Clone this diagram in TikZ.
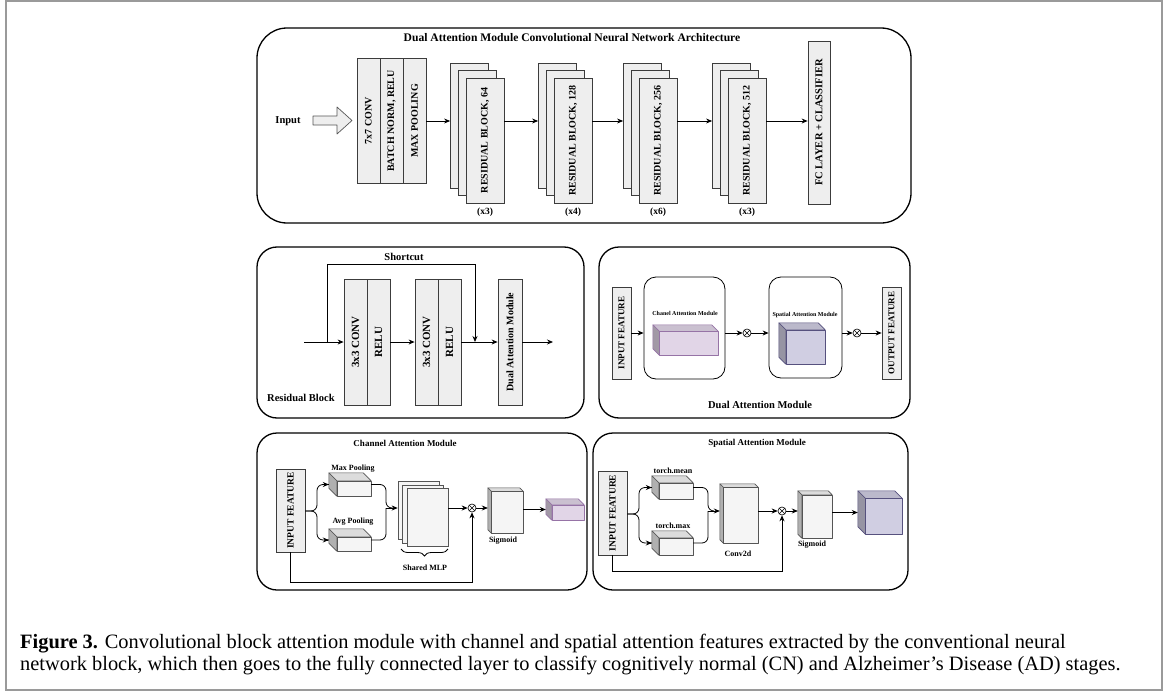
\documentclass[tikz,border=0pt]{standalone}
\usepackage{fontspec}
\setmainfont{Liberation Serif}
\usetikzlibrary{calc,arrows.meta,decorations.pathreplacing}
\definecolor{boxf}{HTML}{EEEEEE}
\definecolor{boxd}{HTML}{3C3C3C}
\definecolor{cgray}{HTML}{F5F5F5}
\definecolor{cgrayd}{HTML}{555555}
\definecolor{cpur}{HTML}{E1D5E7}
\definecolor{cpurd}{HTML}{9673A6}
\definecolor{cblue}{HTML}{D0CEE2}
\definecolor{cblued}{HTML}{56517E}
\definecolor{framec}{HTML}{9A9A9A}
\newcommand{\myfs}[1]{\fontsize{#1}{#1}\selectfont\bfseries}
% cuboid: name, cx, cy, w, h, depth, face colour, line colour
\newcommand{\cuboid}[8]{%
  \node[minimum width=#4pt, minimum height=#5pt, inner sep=0pt, draw=none] (#1) at (#2,#3) {};
  \filldraw[fill=#7!90!black, draw=#8, line width=0.6pt, line join=round]
    (#1.north west) -- ($(#1.north east)+(-#6,0)$) -- ($(#1.north east)+(0,#6)$) -- ($(#1.north west)+(#6,#6)$) -- cycle;
  \filldraw[fill=#7!72!black, draw=#8, line width=0.6pt, line join=round]
    (#1.north west) -- ($(#1.north west)+(#6,#6)$) -- ($(#1.south west)+(#6,0)$) -- ($(#1.south west)+(0,-#6)$) -- cycle;
  \filldraw[fill=#7, draw=#8, line width=0.6pt, line join=round]
    ($(#1.north west)+(#6,#6)$) rectangle (#1.south east);
}
\newcommand{\otimesnode}[3]{%
  \node[otim] (#1) at (#2,#3) {};
  \draw[line width=0.6pt] (#1.north east) -- (#1.south west) (#1.north west) -- (#1.south east);
}
% stack of three residual blocks: name, front-left x, text, multiplicity
\newcommand{\stackblk}[4]{%
  \node[blk, minimum width=38pt, minimum height=125pt] (#1b) at (#2+3.5,125.5) {};
  \node[blk, minimum width=38pt, minimum height=125pt] (#1m) at (#2+11.25,133) {};
  \node[blk, minimum width=38pt, minimum height=125pt] (#1f) at (#2+19,140.5) {\rotatebox{90}{\myfs{10}#3}};
  \node[txt] (#1x) at (#2+19,212) {\myfs{9.5}#4};
}
\begin{document}
\begin{tikzpicture}[x=1pt,y=-1pt,
  panel/.style={draw=black, line width=1.3pt},
  blk/.style={draw=boxd, fill=boxf, line width=0.8pt, inner sep=0pt},
  txt/.style={inner sep=0pt},
  arr/.style={-{Stealth[length=6pt,width=5pt]}, line width=0.8pt},
  ln/.style={line width=0.8pt},
  otim/.style={circle, draw, line width=0.6pt, minimum size=8pt, inner sep=0pt, fill=white},
]
\useasboundingbox (0,0) rectangle (1165,693);
\fill[white] (0,0) rectangle (1165,693);
\draw[framec, line width=2pt] (5.5,1.5) rectangle (1162,690);

% ================= top panel =================
\draw[panel, rounded corners=30pt] (257,28) rectangle (911,223);
\node[txt] (toptitle) at (572,38) {\myfs{11.6}Dual Attention Module Convolutional Neural Network Architecture};
\node[txt] (input) at (288,121) {\myfs{10.5}Input};
\filldraw[fill=boxf, draw=cgrayd, line width=0.7pt, line join=round]
  (313,116) -- (337,116) -- (337,107) -- (352,120.5) -- (337,134) -- (337,125) -- (313,125) -- cycle;
\node[blk, minimum width=23pt, minimum height=125pt] (c1) at (368.5,121) {\rotatebox{90}{\myfs{10}7x7 CONV}};
\node[blk, minimum width=23pt, minimum height=125pt] (c2) at (391.5,121) {\rotatebox{90}{\myfs{10}BATCH NORM, RELU}};
\node[blk, minimum width=23pt, minimum height=125pt] (c3) at (414.5,121) {\rotatebox{90}{\myfs{10}MAX POOLING}};
\stackblk{ra}{466}{RESIDUAL BLOCK, 64}{(x3)}
\stackblk{rb}{554}{RESIDUAL BLOCK, 128}{(x4)}
\stackblk{rc}{639}{RESIDUAL BLOCK, 256}{(x6)}
\stackblk{rd}{728}{RESIDUAL BLOCK, 512}{(x3)}
\node[blk, minimum width=22pt, minimum height=163pt] (fc) at (819,122.5) {\rotatebox{90}{\myfs{10.5}FC LAYER + CLASSIFIER}};
\draw[arr] (c3.east) -- (rab.west |- c3.east);
\draw[arr] (raf.east |- c3.east) -- (rbb.west |- c3.east);
\draw[arr] (rbf.east |- c3.east) -- (rcb.west |- c3.east);
\draw[arr] (rcf.east |- c3.east) -- (rdb.west |- c3.east);
\draw[arr] (rdf.east |- c3.east) -- (fc.west |- c3.east);

% ================= residual block panel =================
\draw[panel, rounded corners=20pt] (257,247) rectangle (584,418);
\node[txt] (sclbl) at (404,257) {\myfs{10.5}Shortcut};
\node[txt, anchor=west] (rblbl) at (267,398) {\myfs{10.5}Residual Block};
\node[blk, minimum width=23pt, minimum height=126pt] (b1a) at (355.5,342) {\rotatebox{90}{\myfs{11}3x3 CONV}};
\node[blk, minimum width=23pt, minimum height=126pt] (b1b) at (378.5,342) {\rotatebox{90}{\myfs{11}RELU}};
\node[blk, minimum width=23pt, minimum height=126pt] (b2a) at (426.5,342) {\rotatebox{90}{\myfs{11}3x3 CONV}};
\node[blk, minimum width=23pt, minimum height=126pt] (b2b) at (449.5,342) {\rotatebox{90}{\myfs{11}RELU}};
\node[blk, minimum width=24pt, minimum height=126pt] (dam) at (510,342) {\rotatebox{90}{\myfs{10}Dual Attention Module}};
\coordinate (rin) at (304,342);
\coordinate (rsc) at (327,342);
\coordinate (rjn) at (475,342);
\coordinate (rout) at (553,342);
\draw[arr] (rin) -- (b1a.west);
\draw[arr] (rsc) -- ++(0,-78) -| (rjn);
\draw[arr] (b1b.east) -- (b2a.west);
\draw[arr] (b2b.east) -- (dam.west |- b2b.east);
\draw[arr] (dam.east |- b2b.east) -- (rout);

% ================= dual attention panel =================
\draw[panel, rounded corners=20pt] (599,247) rectangle (910,418);
\node[blk, minimum width=19pt, minimum height=92pt] (inf1) at (621.5,333) {\rotatebox{90}{\myfs{9}INPUT FEATURE}};
\node[draw=black, line width=0.8pt, rounded corners=12pt, minimum width=81pt, minimum height=102pt, inner sep=0pt] (cam) at (684.5,328) {};
\node[txt] (camlbl) at (685,313) {\myfs{6}Chanel Attention Module};
\cuboid{pc1}{685.5}{340}{65}{30}{6.5}{cpur}{cpurd}
\otimesnode{ot1}{747}{333}
\node[draw=black, line width=0.8pt, rounded corners=12pt, minimum width=73pt, minimum height=101pt, inner sep=0pt] (sam) at (805.5,327.5) {};
\node[txt] (samlbl) at (805,315) {\myfs{6}Spatial Attention Module};
\cuboid{bc1}{802}{343.5}{46}{41}{7}{cblue}{cblued}
\otimesnode{ot2}{857}{333}
\node[blk, minimum width=19pt, minimum height=92pt] (out1) at (891.5,333) {\rotatebox{90}{\myfs{9}OUTPUT FEATURE}};
\node[txt] (dalbl) at (760,405) {\myfs{10.5}Dual Attention Module};
\draw[arr] (inf1.east) -- (cam.west |- inf1.east);
\draw[arr] (cam.east |- ot1) -- (ot1.west);
\draw[arr] (ot1.east) -- (sam.west |- ot1);
\draw[arr] (sam.east |- ot2) -- (ot2.west);
\draw[arr] (ot2.east) -- (out1.west);

% ================= channel attention panel =================
\draw[panel, rounded corners=20pt] (257,433) rectangle (587,590);
\node[txt] (catitle) at (405,443) {\myfs{9}Channel Attention Module};
\node[blk, minimum width=29pt, minimum height=83pt] (inf2) at (290.5,510.5) {\rotatebox{90}{\myfs{9.5}INPUT FEATURE}};
\node[txt] (mplbl) at (353,469) {\myfs{8}Max Pooling};
\node[txt] (aplbl) at (353,522) {\myfs{8}Avg Pooling};
\cuboid{mp}{350}{484.5}{42}{23}{8}{cgray}{cgrayd}
\cuboid{ap}{350}{540}{42}{22}{8}{cgray}{cgrayd}
\node[blk, fill=cgray, draw=cgrayd, line width=0.6pt, minimum width=41pt, minimum height=58pt] (mlp1) at (418.5,510) {};
\node[blk, fill=cgray, draw=cgrayd, line width=0.6pt, minimum width=41pt, minimum height=58pt] (mlp2) at (423,514) {};
\node[blk, fill=cgray, draw=cgrayd, line width=0.6pt, minimum width=41pt, minimum height=58pt] (mlp3) at (427.5,517.5) {};
\draw[ln, decorate, decoration={brace, amplitude=7pt}] (448,549) -- (401,549);
\node[txt] (mlplbl) at (425,568) {\myfs{8}Shared MLP};
\otimesnode{ot3}{472}{508}
\cuboid{sg1}{505.5}{510.5}{35}{45}{3.5}{cgray}{cgrayd}
\node[txt] (sg1lbl) at (503,541) {\myfs{8}Sigmoid};
\cuboid{pc2}{565}{509.5}{38}{21}{6}{cpur}{cpurd}
\draw[ln, rounded corners=6pt] (inf2.east |- 0,511) -- (317,511) |- (mp.west);
\draw[arr] (mp.west) ++(-1,0) -- (mp.west);
\draw[ln, rounded corners=6pt] (inf2.east |- 0,511) -- (317,511) |- (ap.west);
\draw[arr] (ap.west) ++(-1,0) -- (ap.west);
\draw[ln, rounded corners=6pt] (mp.east) -- (386,484.5) -- (386,508) -- (393,508);
\draw[ln, rounded corners=6pt] (ap.east) -- (386,540) -- (386,508);
\draw[arr] (386,508) -- (mlp1.west |- 0,508);
\draw[arr] (mlp3.east |- ot3) -- (ot3.west);
\draw[arr] (inf2.south) -- ++(0,30) -| (ot3.south);
\draw[arr] (ot3.east) -- (sg1.west |- ot3);
\draw[arr] (sg1.east |- pc2) -- (pc2.west);

% ================= spatial attention panel =================
\draw[panel, rounded corners=20pt] (593,433) rectangle (908,590);
\node[txt] (satitle) at (757,443) {\myfs{9}Spatial Attention Module};
\node[blk, minimum width=29pt, minimum height=84pt] (inf3) at (612.5,513) {\rotatebox{90}{\myfs{9.5}INPUT FEATURE}};
\node[txt] (tmlbl) at (673,471) {\myfs{8}torch.mean};
\node[txt] (txlbl) at (673,526) {\myfs{8}torch.max};
\cuboid{tm}{672.5}{487.5}{41}{23}{7}{cgray}{cgrayd}
\cuboid{tx}{672.5}{543}{41}{24}{7}{cgray}{cgrayd}
\cuboid{cv}{739}{513.5}{38}{59}{3.5}{cgray}{cgrayd}
\node[txt] (cvlbl) at (738,554) {\myfs{8}Conv2d};
\otimesnode{ot4}{782}{511}
\cuboid{sg2}{815}{514.5}{34}{47}{4}{cgray}{cgrayd}
\node[txt] (sg2lbl) at (812,545) {\myfs{8}Sigmoid};
\cuboid{bc2}{880}{512.5}{44}{43}{7.5}{cblue}{cblued}
\draw[ln, rounded corners=6pt] (inf3.east |- 0,514) -- (639,514) |- (tm.west);
\draw[arr] (tm.west) ++(-1,0) -- (tm.west);
\draw[ln, rounded corners=6pt] (inf3.east |- 0,514) -- (639,514) |- (tx.west);
\draw[arr] (tx.west) ++(-1,0) -- (tx.west);
\draw[ln, rounded corners=6pt] (tm.east) -- (708,487.5) -- (708,511) -- (714,511);
\draw[ln, rounded corners=6pt] (tx.east) -- (708,543) -- (708,511);
\draw[arr] (708,511) -- (cv.west |- 0,511);
\draw[arr] (cv.east |- ot4) -- (ot4.west);
\draw[arr] (inf3.south) -- ++(0,16) -| (ot4.south);
\draw[arr] (ot4.east) -- (sg2.west |- ot4);
\draw[arr] (sg2.east |- bc2) -- (bc2.west);

% ================= caption =================
\node[txt, anchor=base west] (cap1) at (20,648) {\fontsize{20.4}{22}\selectfont\textbf{Figure 3.} Convolutional block attention module with channel and spatial attention features extracted by the conventional neural};
\node[txt, anchor=base west] (cap2) at (20,670) {\fontsize{20.4}{22}\selectfont network block, which then goes to the fully connected layer to classify cognitively normal (CN) and Alzheimer’s Disease (AD) stages.};
\end{tikzpicture}
\end{document}
